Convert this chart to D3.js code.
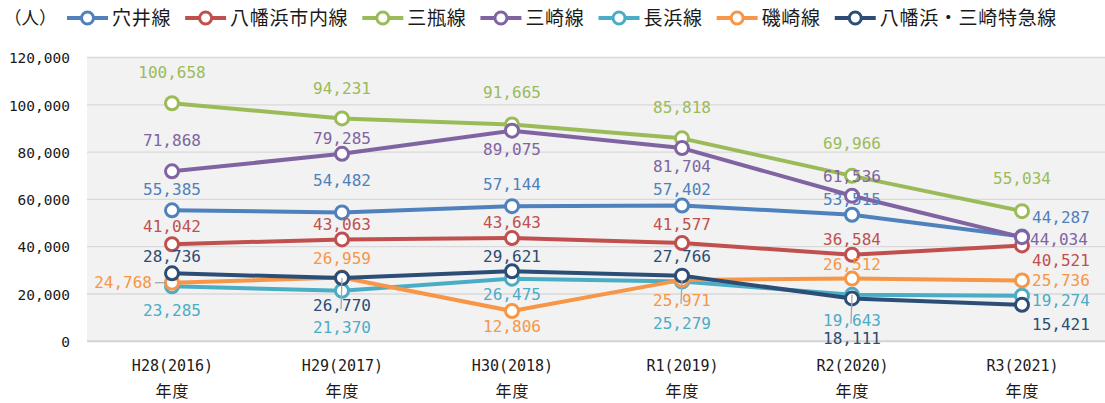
<!DOCTYPE html>
<html><head><meta charset="utf-8">
<script src="https://cdn.jsdelivr.net/npm/d3@7"></script>
<style>
html,body{margin:0;padding:0;background:#fff;}
svg{display:block;}
</style></head>
<body>
<svg id="chart" width="1105" height="403"></svg>
<script>
// ---- data ----
const categories = ["H28(2016)", "H29(2017)", "H30(2018)", "R1(2019)", "R2(2020)", "R3(2021)"];
const categorySub = "年度";
const unitLabel = "（人）";
const seriesNames = ["穴井線", "八幡浜市内線", "三瓶線", "三崎線", "長浜線", "磯崎線", "八幡浜・三崎特急線"];
const anai      = [55385, 54482, 57144, 57402, 53515, 44287];
const shinai    = [41042, 43063, 43643, 41577, 36584, 40521];
const mikame    = [100658, 94231, 91665, 85818, 69966, 55034];
const misaki    = [71868, 79285, 89075, 81704, 61536, 44034];
const nagahama  = [23285, 21370, 26475, 25279, 19643, 19274];
const isozaki   = [24768, 26959, 12806, 25971, 26512, 25736];
const tokkyu    = [28736, 26770, 29621, 27766, 18111, 15421];
const seriesValues = [anai, shinai, mikame, misaki, nagahama, isozaki, tokkyu];
const yTicks = [0, 20000, 40000, 60000, 80000, 100000, 120000];

// ---- styles / placement (not data) ----
const colors = ["#4f81bd", "#c0504d", "#9bbb59", "#8064a2", "#4bacc6", "#f79646", "#2c4d75"];
// label placement per series per point: [anchor, dx, dy, leader]
const labelPlace = [
  [["m",0,-21],["m",0,-32],["m",0,-22],["m",0,-16],["m",0,-15],["s",10,-19]],
  [["m",0,-18],["m",0,-15],["m",0,-16],["m",0,-19],["m",0,-16],["s",10,14.5]],
  [["m",0,-31],["m",0,-30],["m",0,-32],["m",0,-31],["m",0,-33],["m",0,-32.5]],
  [["m",0,-31],["m",0,-16],["m",0,19],["m",0,18],["m",0,-20],["s",8,2]],
  [["m",0,24],["m",0,36],["m",0,16],["m",0,42],["m",0,25,"v"],["s",10,5]],
  [["e",-20,0,"h"],["m",0,-19],["m",0,15],["m",0,20,"v"],["m",0,-14],["s",10,0]],
  [["m",0,-17],["m",0,27,"v"],["m",0,-15],["m",0,-19],["m",0,40],["s",10,19]]
];

const W = 1105, H = 403;
const plot = {left: 87, right: 1107, top: 57.5, bottom: 341.3};
const numFont = "'DejaVu Sans Mono', monospace";
const jpFont = "'Noto Sans CJK JP', 'Noto Sans', sans-serif";

const svg = d3.select("#chart");

const x = d3.scalePoint().domain(categories).range([plot.left, plot.right]).padding(0.5);
const y = d3.scaleLinear().domain([0, 120000]).range([plot.bottom, plot.top]);

// plot background
svg.append("rect").attr("x", plot.left).attr("y", plot.top)
  .attr("width", plot.right - plot.left).attr("height", plot.bottom - plot.top)
  .attr("fill", "#f2f2f2");

// gridlines
svg.append("g").selectAll("line").data(yTicks).join("line")
  .attr("x1", plot.left).attr("x2", plot.right)
  .attr("y1", d => y(d)).attr("y2", d => y(d))
  .attr("stroke", d => d === 0 ? "#d4d4d4" : "#d9d9d9")
  .attr("stroke-width", d => d === 0 ? 2 : 1.3);

// y axis
const fmt = d3.format(",");
const yAxis = d3.axisLeft(y).tickValues(yTicks).tickFormat(fmt).tickSize(0).tickPadding(0);
const gy = svg.append("g").attr("transform", `translate(70,0)`).call(yAxis);
gy.select(".domain").remove();
gy.selectAll("text").attr("font-family", numFont).attr("font-size", "14.5px")
  .attr("fill", "#1a1a1a").attr("dy", "0.36em");

// x axis
const xAxis = d3.axisBottom(x).tickSize(0).tickPadding(0);
const gx = svg.append("g").attr("transform", `translate(0,${plot.bottom})`).call(xAxis);
gx.select(".domain").remove();
gx.selectAll("text").attr("font-family", numFont).attr("font-size", "15px")
  .attr("fill", "#1a1a1a").attr("y", 24).attr("dy", "0.35em");
gx.selectAll(".tick").append("text")
  .attr("y", 50).attr("dy", "0.35em").attr("text-anchor", "middle")
  .attr("font-family", jpFont).attr("font-size", "16px").attr("letter-spacing", "1px")
  .attr("fill", "#1a1a1a").text(categorySub);

// lines
const line = d3.line().x((d, i) => x(categories[i])).y(d => y(d));
const seriesG = svg.append("g");
seriesValues.forEach((vals, si) => {
  const g = seriesG.append("g");
  g.append("path").datum(vals).attr("d", line).attr("fill", "none")
    .attr("stroke", colors[si]).attr("stroke-width", 4).attr("stroke-linejoin", "round");
  g.selectAll("circle").data(vals).join("circle")
    .attr("cx", (d, i) => x(categories[i])).attr("cy", d => y(d)).attr("r", 6.5)
    .attr("fill", "#fff").attr("stroke", colors[si]).attr("stroke-width", 3);
});

// labels + leaders
const labelG = svg.append("g");
seriesValues.forEach((vals, si) => {
  vals.forEach((v, i) => {
    const [a, dx, dy, leader] = labelPlace[si][i];
    const px = x(categories[i]), py = y(v);
    if (leader === "v") {
      labelG.append("line").attr("x1", px).attr("y1", py).attr("x2", px - 1).attr("y2", py + dy + 4)
        .attr("stroke", "#a6a6a6").attr("stroke-width", 1.3);
    } else if (leader === "h") {
      labelG.append("line").attr("x1", px + dx + 3).attr("y1", py).attr("x2", px - 6).attr("y2", py)
        .attr("stroke", "#a6a6a6").attr("stroke-width", 1.3);
    }
    labelG.append("text")
      .attr("x", px + dx).attr("y", py + dy).attr("dy", "0.36em")
      .attr("text-anchor", a === "m" ? "middle" : a === "s" ? "start" : "end")
      .attr("font-family", numFont).attr("font-size", "16px")
      .attr("fill", colors[si]).text(fmt(v));
  });
});

// legend
const lg = svg.append("g");
lg.append("text").attr("x", 4).attr("y", 18).attr("dy", "0.36em")
  .attr("font-family", jpFont).attr("font-size", "17.5px").attr("fill", "#1a1a1a").text(unitLabel);
let lx = 67;
seriesNames.forEach((name, si) => {
  const it = lg.append("g");
  it.append("line").attr("x1", lx).attr("x2", lx + 41).attr("y1", 18).attr("y2", 18)
    .attr("stroke", colors[si]).attr("stroke-width", 4);
  it.append("circle").attr("cx", lx + 20.5).attr("cy", 18).attr("r", 6)
    .attr("fill", "#fff").attr("stroke", colors[si]).attr("stroke-width", 3);
  const t = it.append("text").attr("x", lx + 45).attr("y", 18).attr("dy", "0.36em")
    .attr("font-family", jpFont).attr("font-size", "19px").attr("letter-spacing", "0.7px")
    .attr("fill", "#1a1a1a").text(name);
  const w = t.node().getComputedTextLength();
  lx = lx + 45 + w + 14;
});
</script>
</body></html>
